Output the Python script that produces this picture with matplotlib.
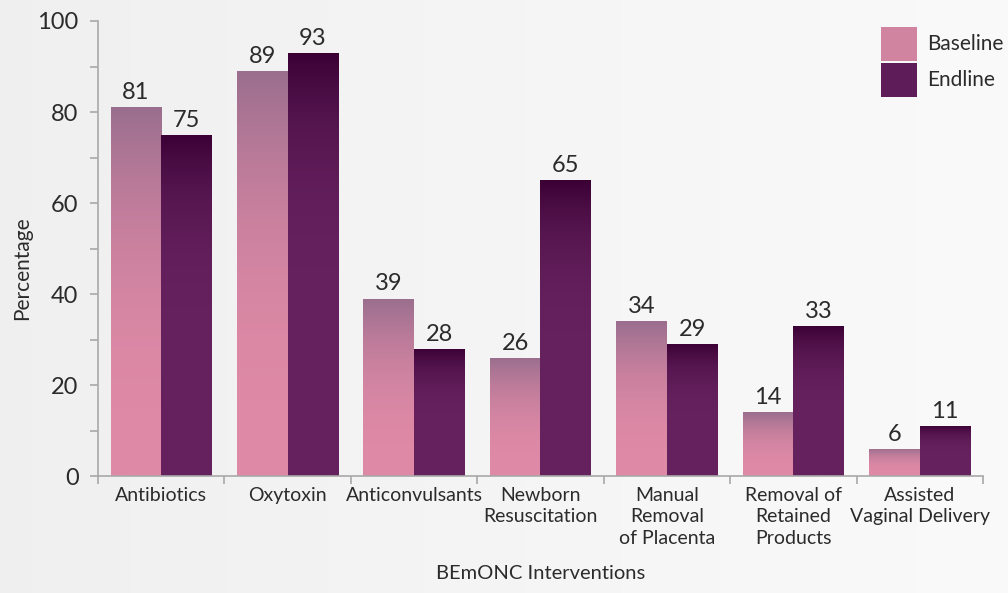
import numpy as np
import matplotlib.pyplot as plt
from matplotlib.colors import to_rgb
from matplotlib.patches import Patch
from matplotlib.ticker import MultipleLocator, FixedLocator

plt.rcParams['font.family'] = ['Lato', 'DejaVu Sans']

categories = ["Antibiotics", "Oxytoxin", "Anticonvulsants", "Newborn\nResuscitation",
              "Manual\nRemoval\nof Placenta", "Removal of\nRetained\nProducts",
              "Assisted\nVaginal Delivery"]
baseline = [81, 89, 39, 26, 34, 14, 6]
endline = [75, 93, 28, 65, 29, 33, 11]

base_cols = ("#df8aa6", "#9a6e8e")   # bottom, top
end_cols = ("#66225f", "#3a0034")
text_col = "#2b2b2b"

def gradient_fill(ax, bar, cols, power):
    # vertical shading: plain colour lower down, darker towards the top
    x0, y0 = bar.get_x(), bar.get_y()
    w, h = bar.get_width(), bar.get_height()
    t = np.linspace(0, 1, 256)[:, None]
    mix = t ** power
    lo, hi = np.array(to_rgb(cols[0])), np.array(to_rgb(cols[1]))
    img = lo[None, None, :] * (1 - mix[..., None]) + hi[None, None, :] * mix[..., None]
    im = ax.imshow(img, extent=(x0, x0 + w, y0, y0 + h), origin="lower",
                   aspect="auto", zorder=2, interpolation="bilinear")
    im.set_clip_path(bar)

fig = plt.figure(figsize=(10.08, 5.93), dpi=100)

# soft grey background, slightly lighter to the right
bg = fig.add_axes([0, 0, 1, 1], zorder=-1)
grad = np.linspace(0.94, 0.98, 256)[None, :]
bg.imshow(np.dstack([grad, grad, grad]), aspect="auto", extent=(0, 1, 0, 1))
bg.axis("off")

ax = fig.add_axes([0.0972, 0.197, 0.878, 0.7676])
ax.set_facecolor("none")

x = np.arange(len(categories))
w = 0.4
b1 = ax.bar(x - w / 2, baseline, w, color="none", zorder=2)
b2 = ax.bar(x + w / 2, endline, w, color="none", zorder=2)
for bar in b1:
    gradient_fill(ax, bar, base_cols, 2.5)
for bar in b2:
    gradient_fill(ax, bar, end_cols, 5)

ax.bar_label(b1, padding=3, fontsize=17, color=text_col)
ax.bar_label(b2, padding=3, fontsize=17, color=text_col)

ax.set_xlim(-0.5, len(categories) - 0.5)
ax.set_ylim(0, 100)

axis_col = "#a8a8a8"
for s in ["top", "right"]:
    ax.spines[s].set_visible(False)
for s in ["left", "bottom"]:
    ax.spines[s].set_color(axis_col)
    ax.spines[s].set_linewidth(1.2)

ax.yaxis.set_major_locator(MultipleLocator(20))
ax.yaxis.set_minor_locator(MultipleLocator(10))
ax.tick_params(axis="y", which="both", direction="out", length=6, width=1.2,
               color=axis_col, labelsize=17, labelcolor=text_col, pad=8)

# ticks between groups, labels centred on groups
ax.xaxis.set_major_locator(FixedLocator(np.arange(-0.5, len(categories), 1)))
ax.xaxis.set_minor_locator(FixedLocator(x))
ax.set_xticklabels([])
ax.set_xticklabels(categories, minor=True, fontsize=14, color=text_col,
                   linespacing=1.3, va="top")
ax.tick_params(axis="x", which="major", direction="out", length=6, width=1.2, color=axis_col)
ax.tick_params(axis="x", which="minor", length=0, pad=8)

ax.set_ylabel("Percentage", fontsize=15, color=text_col)
ax.yaxis.set_label_coords(-0.074, 0.457)
ax.set_xlabel("BEmONC Interventions", fontsize=14.5, color=text_col, labelpad=13)

handles = [Patch(facecolor="#d184a0", label="Baseline"),
           Patch(facecolor="#5e1d58", label="Endline")]
ax.legend(handles=handles, loc="upper right", bbox_to_anchor=(1.033, 1.005), frameon=False,
          fontsize=15, handlelength=1.75, handleheight=2.1, labelspacing=0.12,
          handletextpad=0.5, borderaxespad=0, labelcolor=text_col)

fig.savefig("out.png", dpi=100)
